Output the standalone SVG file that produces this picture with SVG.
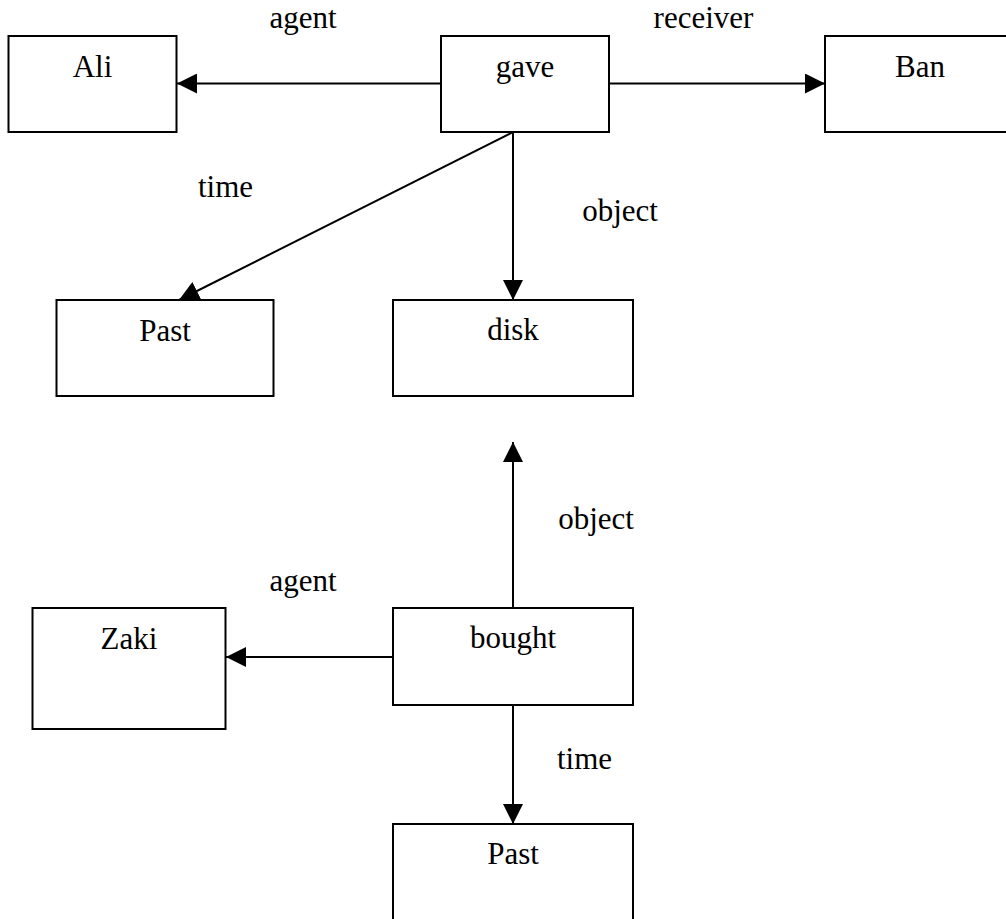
<svg xmlns="http://www.w3.org/2000/svg" width="1006" height="919" viewBox="0 0 1006 919" font-family="Liberation Serif, DejaVu Serif, serif">
<style>
.box{fill:#fff;stroke:#000;stroke-width:2}
.edge{fill:none;stroke:#000;stroke-width:2;marker-end:url(#ah)}
text{font-family:'Liberation Serif','DejaVu Serif',serif;font-size:31px;fill:#000;text-anchor:middle}
</style>
<defs>
<marker id="ah" markerUnits="userSpaceOnUse" markerWidth="20" markerHeight="20" refX="20" refY="10" orient="auto" viewBox="0 0 20 20">
<path d="M0,0 L20,10 L0,20 z" fill="#000"/>
</marker>
</defs>
<rect width="1006" height="919" fill="#fff"/>
<g id="connectors">
<path class="edge" d="M441,83.5 L177,83.5"/>
<path class="edge" d="M609,83.5 L825,83.5"/>
<path class="edge" d="M513,132 L513,300"/>
<path class="edge" d="M513,132 L179,300"/>
<path class="edge" d="M513,608 L513,442"/>
<path class="edge" d="M393,657 L226,657"/>
<path class="edge" d="M513,705 L513,824"/>
<text x="303" y="28">agent</text>
<text x="703.5" y="28">receiver</text>
<text x="225.5" y="197">time</text>
<text x="620" y="221">object</text>
<text x="596" y="529">object</text>
<text x="303" y="591">agent</text>
<text x="584.5" y="769">time</text>
</g>
<g id="ali"><rect class="box" x="8.5" y="36" width="168" height="96"/><text x="92.5" y="77">Ali</text></g>
<g id="gave"><rect class="box" x="441" y="36" width="168" height="96"/><text x="525" y="77">gave</text></g>
<g id="ban"><rect class="box" x="825" y="36" width="190" height="96"/><text x="920" y="77">Ban</text></g>
<g id="past1"><rect class="box" x="56.5" y="300" width="217" height="96"/><text x="165" y="341">Past</text></g>
<g id="disk"><rect class="box" x="393" y="300" width="240" height="96"/><text x="513" y="340">disk</text></g>
<g id="zaki"><rect class="box" x="32.5" y="608" width="193" height="121"/><text x="129" y="649">Zaki</text></g>
<g id="bought"><rect class="box" x="393" y="608" width="240" height="97"/><text x="513" y="648">bought</text></g>
<g id="past2"><rect class="box" x="393" y="824" width="240" height="120"/><text x="513" y="864">Past</text></g>
</svg>
